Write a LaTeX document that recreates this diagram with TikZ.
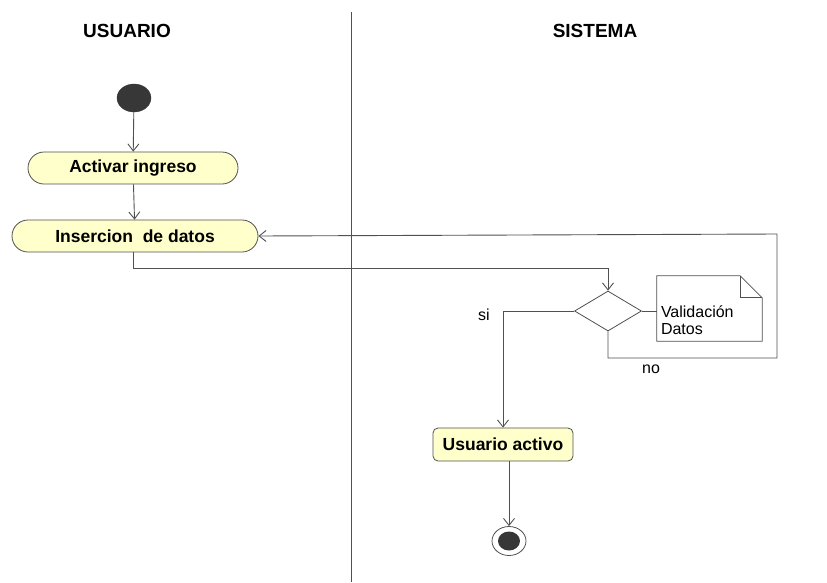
\documentclass[tikz,border=0pt]{standalone}
\usepackage{fontspec}
\setmainfont{Liberation Sans}
\usetikzlibrary{arrows.meta,shapes.geometric}
\definecolor{actfill}{RGB}{255,255,204}
\definecolor{edge}{RGB}{80,80,80}
\definecolor{dot}{RGB}{55,55,55}
\tikzset{
  flow/.style={draw=edge, line width=0.9pt, -{Straight Barb[length=7pt,width=11pt]}},
  plain/.style={draw=edge, line width=0.9pt},
  stadium/.style={draw=edge, fill=actfill, line width=0.8pt, rounded corners=16pt, font=\bfseries\fontsize{17.5}{20}\selectfont, inner sep=0pt},
  actbox/.style={draw=edge, fill=actfill, line width=0.8pt, rounded corners=5pt, font=\bfseries\fontsize{17.5}{20}\selectfont, inner sep=0pt, minimum width=140pt, minimum height=33pt},
  lane/.style={font=\bfseries\fontsize{19}{22}\selectfont},
  lbl/.style={font=\fontsize{16}{17}\selectfont}
}
\begin{document}
\begin{tikzpicture}[x=1pt,y=-1pt]
\useasboundingbox (0,0) rectangle (827,582);
% swimlanes
\coordinate (laneTop) at (351,12);
\coordinate (laneBot) at (351,582);
\draw[edge, line width=0.9pt] (laneTop) -- (laneBot);
\node[lane] (usuario) at (127,31) {USUARIO};
\node[lane] (sistema) at (595,31) {SISTEMA};
% nodes
\node[ellipse, fill=dot, draw=dot, minimum width=34pt, minimum height=28pt, inner sep=0pt] (start) at (134,98) {};
\node[stadium, minimum width=210pt, minimum height=32pt] (act) at (133,168) {Activar ingreso};
\node[stadium, minimum width=246pt, minimum height=32pt] (ins) at (135,236) {Insercion\ \ de datos};
\node[diamond, draw=edge, fill=white, line width=0.8pt, minimum width=67pt, minimum height=40pt, inner sep=0pt, aspect=1.675] (dec) at (608,311) {};
\node[minimum width=105pt, minimum height=65pt, inner sep=0pt] (note) at (709.5,308.5) {};
\draw[edge, line width=0.8pt, fill=white]
  (note.north west) -- ([xshift=-22pt]note.north east) -- ([yshift=-22pt]note.north east) -- (note.south east) -- (note.south west) -- cycle;
\draw[edge, line width=0.8pt] ([xshift=-22pt]note.north east) -- ([xshift=-22pt,yshift=-22pt]note.north east) -- ([yshift=-22pt]note.north east);
\node[lbl, align=left, anchor=west, inner sep=0pt] (notetext) at ([xshift=4pt,yshift=-12pt]note.west) {Validación\\Datos};
\node[actbox] (ua) at (503,444.5) {Usuario activo};
\node[ellipse, draw=edge, fill=white, line width=0.8pt, minimum width=34pt, minimum height=29pt, inner sep=0pt] (fin) at (509,541) {};
\node[ellipse, fill=dot, minimum width=22pt, minimum height=19pt, inner sep=0pt] (findot) at (509,541) {};
% connectors
\draw[flow] (start) -- (act);
\draw[flow] (act) -- (ins);
\coordinate (c1) at (133,268);
\coordinate (c2) at (608,268);
\draw[flow] (ins.south -| c1) -- (c1) -- (c2) -- (dec.north);
\draw[plain] (dec.east) -- (dec.east -| note.west);
\coordinate (si1) at (503,311);
\draw[flow] (dec.west) -- (si1) -- (ua.north -| si1);
\node[lbl] (silbl) at (484,315) {si};
\coordinate (no1) at (608,358);
\coordinate (no2) at (777,358);
\coordinate (no3) at (777,234);
\draw[flow] (dec.south) -- (no1) -- (no2) -- (no3) -- (ins.east);
\node[lbl] (nolbl) at (651,369) {no};
\draw[flow] ([xshift=6pt]ua.south) -- (fin.north);
\end{tikzpicture}
\end{document}
